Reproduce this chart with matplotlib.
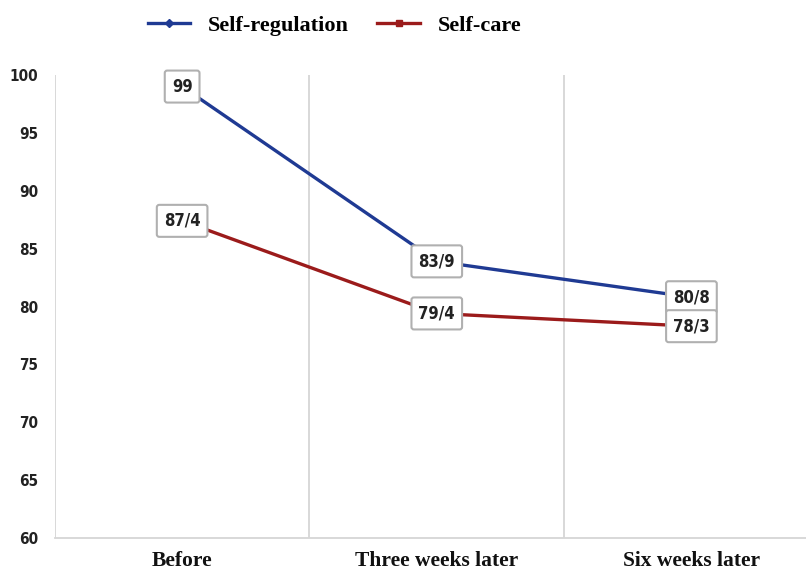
import matplotlib.pyplot as plt
from matplotlib.lines import Line2D
from matplotlib.font_manager import FontProperties

# data
stages = ["Before", "Three weeks later", "Six weeks later"]
self_regulation = [99.0, 83.9, 80.8]
self_care = [87.4, 79.4, 78.3]
yticks = [60, 65, 70, 75, 80, 85, 90, 95, 100]

blue = "#1F3A93"
red = "#9B1B1B"
grid_c = "#D6D6D6"
serif = ["Liberation Serif", "DejaVu Serif"]
narrow = FontProperties(family="DejaVu Sans", stretch="condensed",
                        weight="bold", size=11)
box_font = FontProperties(family="DejaVu Sans", stretch="condensed",
                          weight="bold", size=12)

fig = plt.figure(figsize=(8.06, 5.72), dpi=100)
ax = fig.add_axes([0.068, 0.0594, 0.932, 0.8095])

x = list(range(len(stages)))
ax.plot(x, self_regulation, color=blue, lw=2.4, marker="D", ms=4, zorder=3)
ax.plot(x, self_care, color=red, lw=2.4, marker="s", ms=4, zorder=3)

# value labels, decimal written with "/"
for series in [self_regulation, self_care]:
    for xi, v in zip(x, series):
        s = f"{v:.1f}".replace(".", "/")
        if s.endswith("/0"):
            s = s[:-2]
        ax.text(xi, v, s, ha="center", va="center", fontproperties=box_font,
                color="#222222", zorder=5,
                bbox=dict(boxstyle="round,pad=0.42,rounding_size=0.15",
                          fc="white", ec="#B0B0B0", lw=1.5))

# vertical separators between categories
for xv in [-0.5, 0.5, 1.5]:
    ax.axvline(xv, color=grid_c, lw=1.3, zorder=1)

ax.set_xlim(-0.5, 2.45)
ax.set_ylim(60, 100)
ax.set_yticks(yticks)
ax.set_yticklabels([str(t) for t in yticks], fontproperties=narrow,
                   color="#222222")
ax.set_xticks(x)
ax.set_xticklabels(stages, family=serif, fontweight="bold", fontsize=15.5,
                   color="#111111")
ax.tick_params(axis="both", length=0)
ax.tick_params(axis="y", pad=12)
ax.tick_params(axis="x", pad=9)

for side in ["top", "right", "left"]:
    ax.spines[side].set_visible(False)
ax.spines["bottom"].set_color(grid_c)
ax.spines["bottom"].set_linewidth(1.3)

handles = [Line2D([], [], color=blue, lw=2.4, marker="D", ms=4),
           Line2D([], [], color=red, lw=2.4, marker="s", ms=4)]
fig.legend(handles, ["Self-regulation", "Self-care"], loc="center",
           bbox_to_anchor=(0.415, 0.955), ncol=2, frameon=False,
           prop=dict(family=serif, weight="bold", size=16),
           handlelength=1.9, columnspacing=1.3, handletextpad=0.8)

fig.savefig("out.png", dpi=100)
